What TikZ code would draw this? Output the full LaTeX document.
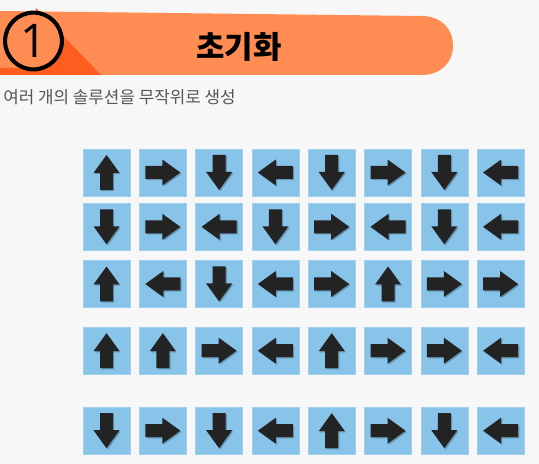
\documentclass[tikz,border=0pt]{standalone}
\usepackage{fontspec}
\usepackage{tikz}
\usetikzlibrary{positioning}
\newfontfamily\krfont{Noto Sans CJK KR}
\newfontfamily\numfont{Open Sans}
\definecolor{fondo}{RGB}{247,247,247}
\definecolor{naranja}{RGB}{255,140,82}
\definecolor{naranjaosc}{RGB}{255,92,32}
\definecolor{celeste}{RGB}{136,196,234}
\definecolor{flecha}{RGB}{35,35,35}
\definecolor{gristexto}{RGB}{85,85,85}

\begin{document}
\begin{tikzpicture}[x=0.025cm, y=-0.025cm, font=\krfont,
    casilla/.style={fill=celeste, draw=celeste!80!white, line width=0.4pt, minimum size=1.175cm, inner sep=0pt}]
  \fill[fondo] (0,0) rectangle (539,464);
  % banda del titulo
  \fill[naranja] (0,11) -- (422,16) .. controls (440,16) and (453,28) .. (453,45.5)
    .. controls (453,63) and (440,75) .. (422,75) -- (0,75) -- cycle;
  \fill[naranjaosc] (0,68) -- (0,75) -- (101,75) -- (36,8) -- (33,41) -- (33,68) -- cycle;
  \node[circle, draw=black, fill=naranja, line width=2.9pt, minimum size=1.42cm, inner sep=0pt,
    font=\numfont\fontsize{33}{35}\selectfont] (paso) at (33.5,41) {1};
  \node[font=\krfont\bfseries\fontsize{22}{26}\selectfont] (titulo) at (239,47) {초기화};
  \node[anchor=west, inner sep=0pt, text=gristexto, font=\krfont\fontsize{12}{14}\selectfont]
    (sub) at (3,97) {여러 개의 솔루션을 무작위로 생성};
  % rejilla de casillas con flechas
  \foreach \dirs [count=\r] in {{90,0,270,180,270,0,270,180},
                                {270,0,180,270,0,180,270,180},
                                {90,180,270,180,0,90,0,0},
                                {90,90,0,180,90,0,0,180},
                                {270,0,270,180,90,0,270,180}} {
    \pgfmathsetmacro\ry{{172.5,226.8,284,350.7,430.7}[\r-1]}
    \foreach \a [count=\c] in \dirs {
      \node[casilla] (c-\r-\c) at ({106.5+56.3*(\c-1)},\ry) {};
      \fill[black, opacity=0.25, shift={(c-\r-\c.center)}, shift={(1.2,1.2)}, rotate=\a]
        (-17.5,-6.5) -- (-0.5,-6.5) -- (-0.5,-13) -- (17.5,0) -- (-0.5,13) -- (-0.5,6.5) -- (-17.5,6.5) -- cycle;
      \fill[flecha, shift={(c-\r-\c.center)}, rotate=\a]
        (-17.5,-6.5) -- (-0.5,-6.5) -- (-0.5,-13) -- (17.5,0) -- (-0.5,13) -- (-0.5,6.5) -- (-17.5,6.5) -- cycle;
    }
  }
\end{tikzpicture}
\end{document}
